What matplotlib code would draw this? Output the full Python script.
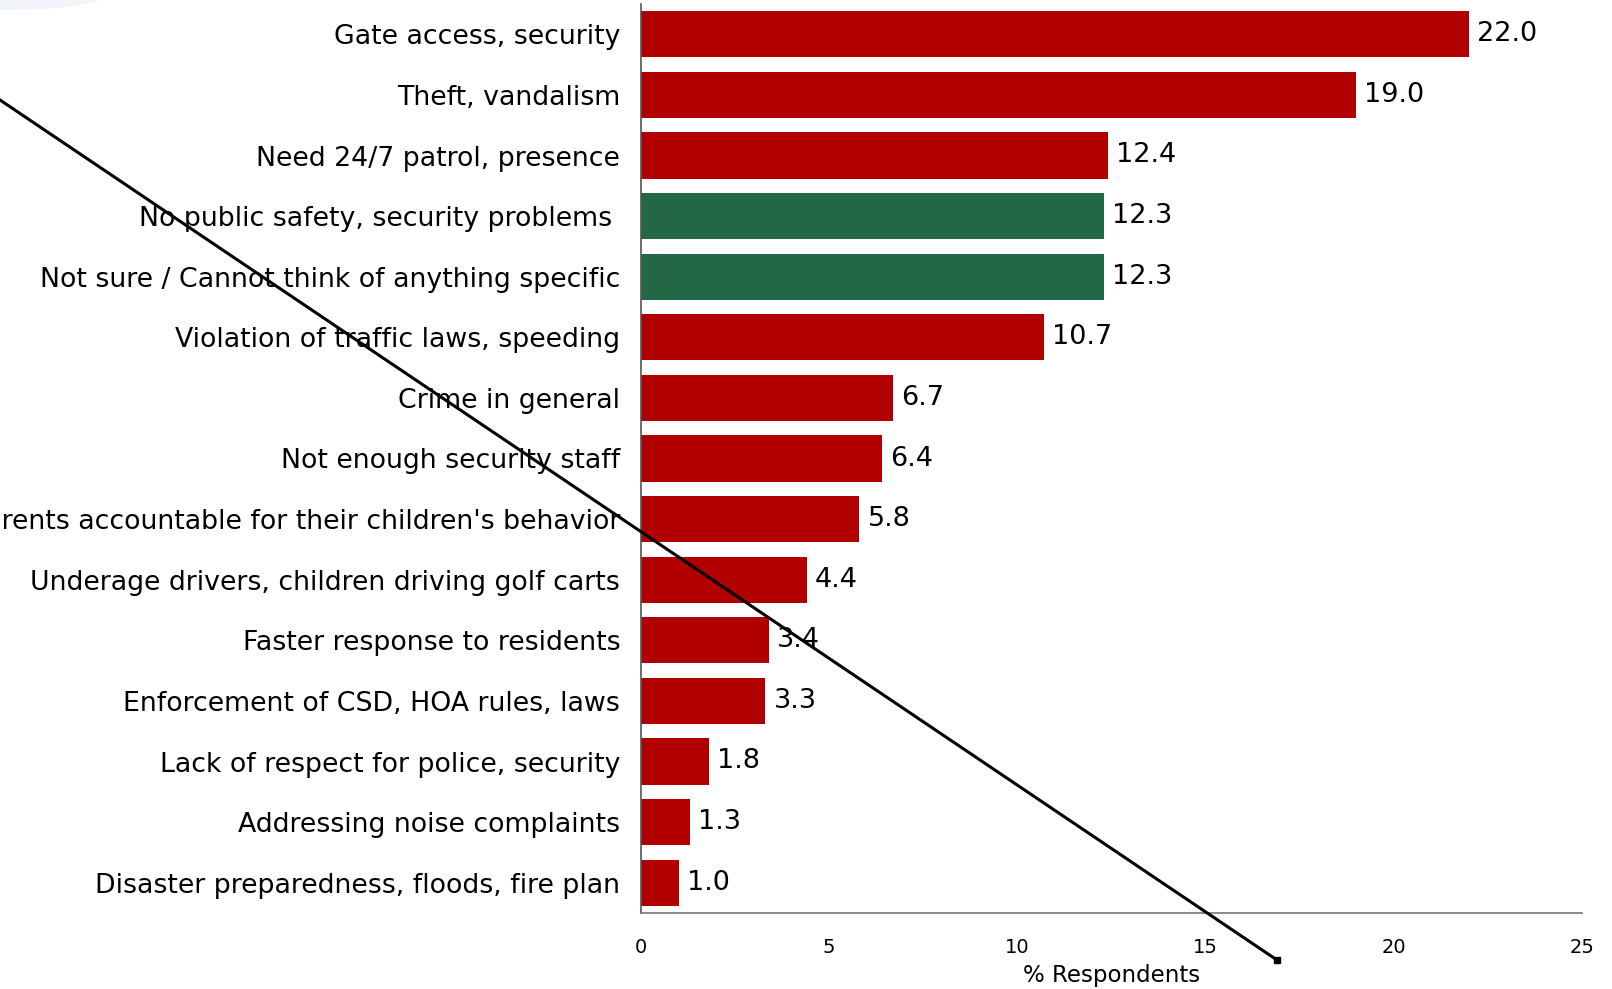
import matplotlib
matplotlib.use("Agg")
import matplotlib.pyplot as plt
from matplotlib.lines import Line2D
from matplotlib.patches import Ellipse

# Survey data (top to bottom)
categories = [
    "Gate access, security",
    "Theft, vandalism",
    "Need 24/7 patrol, presence",
    "No public safety, security problems ",
    "Not sure / Cannot think of anything specific",
    "Violation of traffic laws, speeding",
    "Crime in general",
    "Not enough security staff",
    "Hold parents accountable for their children's behavior",
    "Underage drivers, children driving golf carts",
    "Faster response to residents",
    "Enforcement of CSD, HOA rules, laws",
    "Lack of respect for police, security",
    "Addressing noise complaints",
    "Disaster preparedness, floods, fire plan",
]
values = [22.0, 19.0, 12.4, 12.3, 12.3, 10.7, 6.7, 6.4, 5.8, 4.4, 3.4, 3.3, 1.8, 1.3, 1.0]
is_green = [False, False, False, True, True, False, False, False, False,
            False, False, False, False, False, False]
x_ticks = [0, 5, 10, 15, 20, 25]

RED = "#b20000"
GREEN = "#236846"

W, H = 1612, 989
fig = plt.figure(figsize=(W / 100, H / 100), dpi=100)
# axes box in pixel coordinates of the reference
left, right, top, bottom = 641, 1582, 4, 913
ax = fig.add_axes([left / W, 1 - bottom / H, (right - left) / W, (bottom - top) / H])

colors = [GREEN if g else RED for g in is_green]
ypos = list(range(len(categories)))
ax.barh(ypos, values, height=0.76, color=colors)
ax.set_ylim(len(categories) - 0.5, -0.5)
ax.set_xlim(0, 25)

ax.set_yticks(ypos)
ax.set_yticklabels(categories, fontsize=19.3)
ax.set_xticks(x_ticks)
ax.set_xticklabels([str(t) for t in x_ticks], fontsize=14)
ax.tick_params(axis="y", length=0, pad=15)
ax.tick_params(axis="x", length=0, pad=18)
ax.set_xlabel("% Respondents", fontsize=16.5, labelpad=5)

for s in ["top", "right"]:
    ax.spines[s].set_visible(False)
ax.spines["left"].set_color("#555555")
ax.spines["bottom"].set_color("#777777")
ax.spines["left"].set_linewidth(1.2)
ax.spines["bottom"].set_linewidth(1.2)

for y, v in zip(ypos, values):
    ax.text(v + 0.22, y, f"{v:.1f}", va="center", ha="left", fontsize=19.5)

# faint decoration at the top-left corner
fig.add_artist(Ellipse((10 / W, 1 + 8 / H), 200 / W, 36 / H, transform=fig.transFigure,
                       facecolor="#f2f5f9", edgecolor="none", zorder=0))

# diagonal stroke drawn across the chart
fig.add_artist(Line2D([0, 1277 / W], [1 - 100 / H, 1 - 960 / H], transform=fig.transFigure,
                      color="black", linewidth=2.2, zorder=10))
fig.add_artist(Line2D([1277 / W], [1 - 960 / H], transform=fig.transFigure,
                      marker="s", markersize=4.5, color="black", zorder=10))

fig.savefig("out.png", dpi=100)
